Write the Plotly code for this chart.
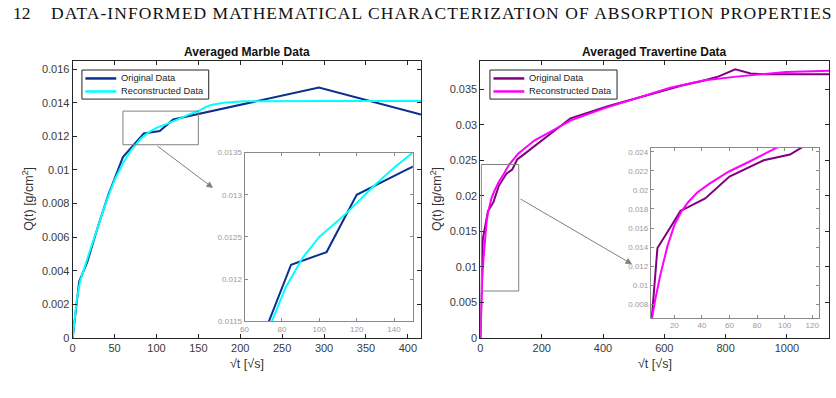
import plotly.graph_objects as go

W, H = 836, 398

# ---------------- data ----------------
series_names = ["Original Data", "Reconstructed Data"]

marble_x = [0, 7.75, 17.3, 24.5, 30, 42.4, 60, 84.9, 103.9, 120, 147, 293.9, 415.7]
marble_orig = [0, 0.00336, 0.0045, 0.0057, 0.0066, 0.0085, 0.01076, 0.01217, 0.01232,
               0.0130, 0.0133, 0.0149, 0.0133]
marble_rec_x = [0, 2, 5, 9, 15, 20, 30, 40, 50, 60, 70, 75, 82, 91, 100, 114, 129, 140,
                150, 158, 165, 180, 205, 250, 300, 415.7]
marble_rec = [0, 0.0011, 0.0023, 0.0034, 0.0044, 0.0051, 0.0066, 0.0081, 0.0094, 0.0104,
              0.0112, 0.01152, 0.0119, 0.01225, 0.0125, 0.01277, 0.0131, 0.01332, 0.0135,
              0.01372, 0.01386, 0.0140, 0.01408, 0.0141, 0.0141, 0.0141]

trav_x = [0, 7.75, 17.3, 24.5, 30, 42.4, 60, 84.9, 103.9, 120, 147, 293.9, 415.7, 509.1,
          587.9, 657.3, 720, 777.7, 831.4, 881.8, 929.5, 974.9, 1018.2, 1059.8, 1099.8, 1138.4]
trav_orig = [0, 0.0139, 0.0161, 0.0178, 0.0182, 0.0191, 0.0214, 0.0231, 0.0237, 0.0251,
             0.0260, 0.0309, 0.0326, 0.0337, 0.0347, 0.0355, 0.0361, 0.0368, 0.0378, 0.0372,
             0.0371, 0.0371, 0.0371, 0.0371, 0.0371, 0.0371]
trav_rec_x = [0, 1, 2, 3.9, 6, 9.9, 15, 20, 25, 30, 36.4, 45, 59.3, 75, 94, 123, 177, 241,
              295, 403, 511, 619, 727, 835, 997, 1138.4]
trav_rec = [0, 0.0022, 0.0040, 0.0066, 0.0084, 0.0111, 0.0141, 0.0163, 0.0177, 0.0187,
            0.0197, 0.0206, 0.0219, 0.0230, 0.0244, 0.0259, 0.0278, 0.0293, 0.0306, 0.0323,
            0.0338, 0.0352, 0.0362, 0.03676, 0.0374, 0.0376]

# axis ranges / ticks
m_xrange = [0, 415.7]
m_yrange = [0, 0.0165]
m_xticks = [0, 50, 100, 150, 200, 250, 300, 350, 400]
m_yticks = [0, 0.002, 0.004, 0.006, 0.008, 0.01, 0.012, 0.014, 0.016]
m_zoom_x = [60, 150]
m_zoom_y = [0.0115, 0.0135]
m_ins_xticks = [60, 80, 100, 120, 140]
m_ins_yticks = [0.0115, 0.012, 0.0125, 0.013, 0.0135]

t_xrange = [0, 1138.4]
t_yrange = [0, 0.039]
t_xticks = [0, 200, 400, 600, 800, 1000]
t_yticks = [0, 0.005, 0.01, 0.015, 0.02, 0.025, 0.03, 0.035]
t_zoom_x = [3, 125]
t_zoom_y = [0.0066, 0.0244]
t_ins_xticks = [20, 40, 60, 80, 100, 120]
t_ins_yticks = [0.008, 0.01, 0.012, 0.014, 0.016, 0.018, 0.02, 0.022, 0.024]

BLUE = "#0a2f8c"
CYAN = "#00ffff"
PURPLE = "#800080"
MAGENTA = "#ff00ff"
FONT = "Liberation Sans, Arial, sans-serif"
SERIF = "Liberation Serif, Times New Roman, serif"

# vertical calibration of the plotting area (observed offset / scale)
V_OFF, V_K = 3.4, 0.973


def px(x):
    return x / W


def py(y):
    return 1 - ((y - V_OFF) / V_K) / H


def lab(v):
    return f"{v:g}"


fig = go.Figure()

# main traces
fig.add_trace(go.Scatter(x=marble_x, y=marble_orig, mode="lines", name=series_names[0],
                         line=dict(color=BLUE, width=2), xaxis="x", yaxis="y"))
fig.add_trace(go.Scatter(x=marble_rec_x, y=marble_rec, mode="lines", name=series_names[1],
                         line=dict(color=CYAN, width=2), xaxis="x", yaxis="y"))
fig.add_trace(go.Scatter(x=trav_x, y=trav_orig, mode="lines", name=series_names[0],
                         line=dict(color=PURPLE, width=2), xaxis="x2", yaxis="y2"))
fig.add_trace(go.Scatter(x=trav_rec_x, y=trav_rec, mode="lines", name=series_names[1],
                         line=dict(color=MAGENTA, width=2), xaxis="x2", yaxis="y2"))
# inset traces
fig.add_trace(go.Scatter(x=marble_x, y=marble_orig, mode="lines",
                         line=dict(color=BLUE, width=2), xaxis="x3", yaxis="y3"))
fig.add_trace(go.Scatter(x=marble_rec_x, y=marble_rec, mode="lines",
                         line=dict(color=CYAN, width=2), xaxis="x3", yaxis="y3"))
fig.add_trace(go.Scatter(x=trav_x, y=trav_orig, mode="lines",
                         line=dict(color=PURPLE, width=2), xaxis="x4", yaxis="y4"))
fig.add_trace(go.Scatter(x=trav_rec_x, y=trav_rec, mode="lines",
                         line=dict(color=MAGENTA, width=2), xaxis="x4", yaxis="y4"))


def main_axis(domain, rng, ticks, anchor):
    return dict(domain=domain, range=rng, anchor=anchor, tickvals=ticks,
                ticktext=[lab(v) for v in ticks], showgrid=False, zeroline=False,
                showline=True, linecolor="#262626", linewidth=1, mirror="allticks",
                ticks="inside", ticklen=4, tickcolor="#262626",
                tickfont=dict(family=FONT, size=11, color="#3a3a3a"))


def inset_axis(domain, rng, ticks, anchor):
    return dict(domain=domain, range=rng, anchor=anchor, tickvals=ticks,
                ticktext=[lab(v) for v in ticks], showgrid=False, zeroline=False,
                showline=True, linecolor="#8a8a8a", linewidth=1, mirror="allticks",
                ticks="inside", ticklen=3, tickcolor="#8a8a8a",
                tickfont=dict(family=FONT, size=8, color="#9a9a9a"))


main_ydom = [py(336.7), py(60)]
fig.update_layout(
    xaxis=main_axis([px(69), px(419)], m_xrange, m_xticks, "y"),
    yaxis=main_axis(main_ydom, m_yrange, m_yticks, "x"),
    xaxis2=main_axis([px(478.7), px(829.3)], t_xrange, t_xticks, "y2"),
    yaxis2=main_axis(main_ydom, t_yrange, t_yticks, "x2"),
    xaxis3=inset_axis([px(241.7), px(410.7)], m_zoom_x, m_ins_xticks, "y3"),
    yaxis3=inset_axis([py(320), py(151.7)], m_zoom_y, m_ins_yticks, "x3"),
    xaxis4=inset_axis([px(650), px(819)], t_zoom_x, t_ins_xticks, "y4"),
    yaxis4=inset_axis([py(316.5), py(147)], t_zoom_y, t_ins_yticks, "x4"),
)

shapes = []
ann = []

# zoom rectangles
shapes.append(dict(type="rect", xref="x", yref="y", x0=m_zoom_x[0], x1=m_zoom_x[1],
                   y0=m_zoom_y[0], y1=m_zoom_y[1], line=dict(color="#808080", width=1)))
shapes.append(dict(type="rect", xref="x2", yref="y2", x0=t_zoom_x[0], x1=t_zoom_x[1],
                   y0=t_zoom_y[0], y1=t_zoom_y[1], line=dict(color="#808080", width=1)))

# custom legends (MATLAB-like compact boxes)
for (bx0, bx1, colors) in [(78.3, 205.7, (BLUE, CYAN)), (488.3, 616, (PURPLE, MAGENTA))]:
    shapes.append(dict(type="rect", xref="paper", yref="paper", x0=px(bx0), x1=px(bx1),
                       y0=py(98.3), y1=py(69.3), line=dict(color="#262626", width=1),
                       fillcolor="white", layer="above"))
    for i, (name, col) in enumerate(zip(series_names, colors)):
        yy = 77.7 + 13 * i
        shapes.append(dict(type="line", xref="paper", yref="paper", x0=px(bx0 + 3.5),
                           x1=px(bx0 + 34.5), y0=py(yy), y1=py(yy),
                           line=dict(color=col, width=2.5), layer="above"))
        ann.append(dict(xref="paper", yref="paper", x=px(bx0 + 37.3), y=py(yy),
                        xanchor="left", yanchor="middle", text=name, showarrow=False,
                        font=dict(family=FONT, size=9.3, color="#222")))

# arrows (tail -> head, in page pixels)
for (tx, ty, hx, hy) in [(153, 144, 210, 187), (518, 197, 631, 263)]:
    ann.append(dict(xref="paper", yref="paper", axref="pixel", ayref="pixel",
                    x=px(hx), y=py(hy), ax=tx - hx, ay=ty - hy, showarrow=True,
                    arrowhead=2, arrowsize=1.3, arrowwidth=1, arrowcolor="#808080", text=""))
# titles
ann.append(dict(xref="paper", yref="paper", x=px(244), y=py(51), xanchor="center",
                yanchor="middle", text="<b>Averaged Marble Data</b>",
                showarrow=False, font=dict(family=FONT, size=12, color="#111")))
ann.append(dict(xref="paper", yref="paper", x=px(654), y=py(51), xanchor="center",
                yanchor="middle", text="<b>Averaged Travertine Data</b>",
                showarrow=False, font=dict(family=FONT, size=12, color="#111")))
# axis titles
for cx in (244, 654):
    ann.append(dict(xref="paper", yref="paper", x=px(cx), y=py(363), xanchor="center",
                    yanchor="middle", text="√t [√s]",
                    showarrow=False, font=dict(family=FONT, size=12.5, color="#333")))
for cx in (24, 434):
    ann.append(dict(xref="paper", yref="paper", x=px(cx), y=py(198), xanchor="center",
                    yanchor="middle", textangle=-90,
                    text="Q(t) [g/cm<sup>2</sup>]", showarrow=False,
                    font=dict(family=FONT, size=12.5, color="#333")))
# page header
ann.append(dict(xref="paper", yref="paper", x=px(7), y=py(12.5), xanchor="left", yanchor="middle",
                text="12", showarrow=False, font=dict(family=SERIF, size=17.5, color="#111")))
ann.append(dict(xref="paper", yref="paper", x=px(45), y=py(12.5), xanchor="left", yanchor="middle",
                text='<span style="letter-spacing:1.05px">DATA-INFORMED MATHEMATICAL '
                     'CHARACTERIZATION OF ABSORPTION PROPERTIES</span>',
                showarrow=False, font=dict(family=SERIF, size=17.5, color="#111")))

fig.update_layout(annotations=ann, shapes=shapes, width=W, height=H,
                  margin=dict(l=0, r=0, t=0, b=0), paper_bgcolor="white",
                  plot_bgcolor="white", showlegend=False)

fig.write_html("out.html")
